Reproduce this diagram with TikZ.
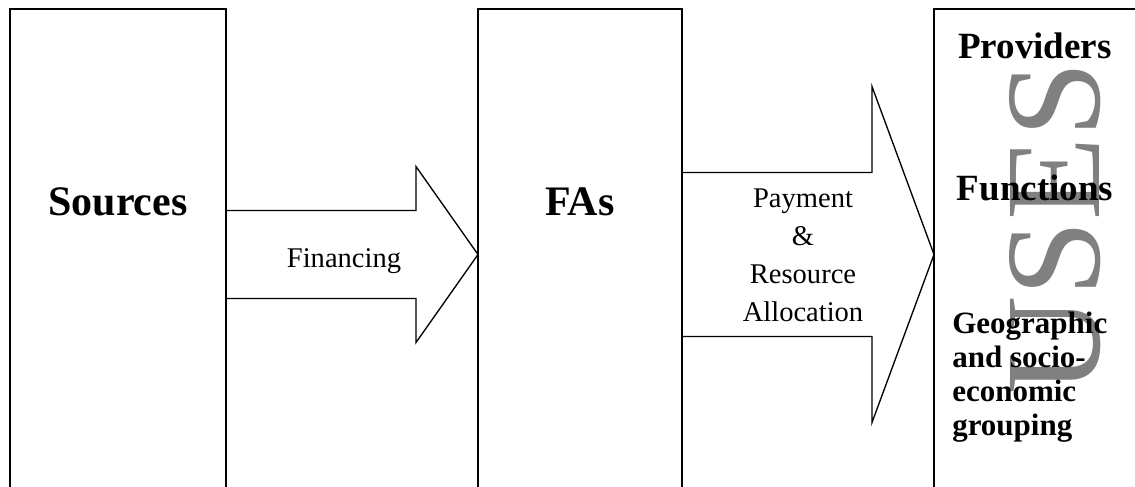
\documentclass[tikz,border=0pt]{standalone}
\usepackage{fontspec}
\setmainfont{Liberation Serif}
\usetikzlibrary{calc}

\begin{document}
\begin{tikzpicture}[x=0.75pt, y=-0.75pt,
    account/.style={draw, line width=1pt, outer sep=0pt, inner sep=0pt, minimum height=368.25pt},
    flow/.style={draw, line width=1pt, line join=miter},
    title/.style={font=\bfseries\fontsize{31.5}{36}\selectfont, inner sep=0pt, anchor=base},
    flowtxt/.style={font=\fontsize{21.4}{28.5}\selectfont, inner sep=0pt, anchor=base},
    usetxt/.style={font=\bfseries\fontsize{27.75}{32}\selectfont, inner sep=0pt, anchor=base},
    grptxt/.style={font=\bfseries\fontsize{23.25}{25.5}\selectfont, inner sep=0pt}]
    \useasboundingbox (0,0) rectangle (1135,486);
    \clip (0,0) rectangle (1135,486);

    \node[account, minimum width=162pt] at (118, 254.5)(sources){};
    \node[account, minimum width=153pt] at (580, 254.5)(fas){};
    \node[account, minimum width=158.25pt] at (1039.5, 254.5)(uses){};

    % watermark behind the use labels
    \node[text=gray, font=\fontsize{102}{102}\selectfont, rotate=90, inner sep=0pt] at (1055, 228)(usesmark){USES};

    \node[title] at (118, 215)(sourcestxt){Sources};
    \node[title] at (580, 215)(fastxt){FAs};

    \draw[flow]
        ($(sources.east)+(0,-44)$) -- ($(fas.west)+(-62,-44)$) -- ($(fas.west)+(-62,-88)$)
        -- (fas.west)
        -- ($(fas.west)+(-62,88)$) -- ($(fas.west)+(-62,44)$) -- ($(sources.east)+(0,44)$);
    \draw[flow]
        ($(fas.east)+(0,-82)$) -- ($(uses.west)+(-62,-82)$) -- ($(uses.west)+(-62,-168)$)
        -- (uses.west)
        -- ($(uses.west)+(-62,168)$) -- ($(uses.west)+(-62,82)$) -- ($(fas.east)+(0,82)$);

    % base of a multi-line node is its last line
    \node[flowtxt] at (344, 267)(financing){Financing};
    \node[flowtxt, align=center] at (803, 321)(payment){Payment\\\&\\Resource\\Allocation};

    \node[usetxt] at (1035, 58)(providers){Providers};
    \node[usetxt] at (1035, 200)(functions){Functions};
    \node[grptxt, align=left, anchor=base west] at (952, 435)(grouping){Geographic\\and socio-\\economic\\grouping};
\end{tikzpicture}
\end{document}
